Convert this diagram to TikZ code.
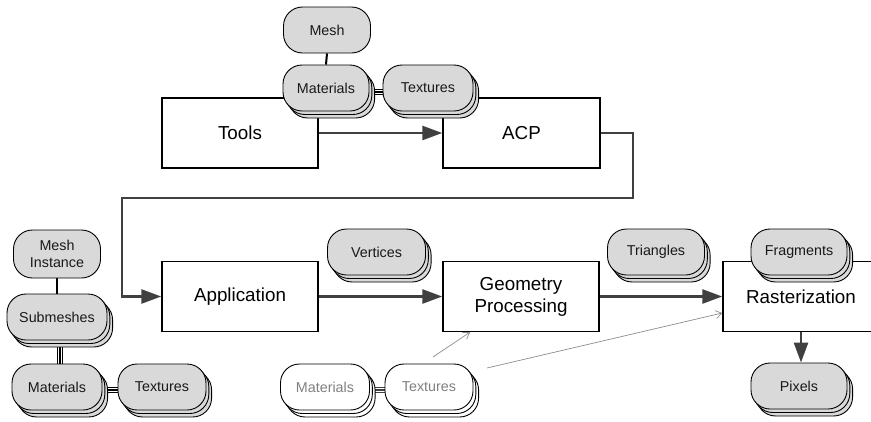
\documentclass[tikz,border=0pt]{standalone}
\usepackage{fontspec}
\setmainfont{Liberation Sans}
\usetikzlibrary{arrows.meta,shadows,backgrounds}
\definecolor{pillgray}{RGB}{217,217,217}
\definecolor{arrowgray}{RGB}{64,64,64}
\definecolor{thingray}{RGB}{140,140,140}
\definecolor{softtext}{RGB}{128,128,128}
\begin{document}
\begin{tikzpicture}[x=1pt,y=-1pt,
  procbox/.style={draw=black, line width=1.4pt, fill=white, minimum width=156pt, minimum height=70pt, inner sep=0pt, align=center, font=\fontsize{18.8}{22}\selectfont},
  pill/.style={draw=black, line width=0.9pt, fill=pillgray, rounded corners=19pt, minimum height=46pt, inner sep=0pt, align=center, text=black!90, font=\fontsize{14.3}{17}\selectfont},
  pillstack/.style={pill, double copy shadow={shadow xshift=2.8pt, shadow yshift=-3.5pt}},
  ghost/.style={pillstack, fill=white, text=softtext},
  bigarrow/.style={draw=arrowgray, line width=2.6pt, -{Triangle[length=20pt,width=14pt]}},
  thinarrow/.style={draw=thingray, line width=0.7pt, -{Straight Barb[length=6pt,width=8pt]}},
  singlelink/.style={draw=black, line width=2pt},
  triplelink/.style={preaction={draw=black, line width=6pt}, draw=white, line width=3.8pt, postaction={draw=black, line width=1.6pt}},
  triplegray/.style={preaction={draw=arrowgray, line width=6pt}, draw=white, line width=3.8pt, postaction={draw=arrowgray, line width=1.6pt}}
]
\clip (0,0) rectangle (871,421);

% process boxes
\node[procbox] (tools) at (240,133) {Tools};
\node[procbox, minimum width=157pt] (acp) at (521.5,133) {ACP};
\node[procbox] (app) at (240,296.5) {Application};
\node[procbox] (geo) at (521,296.5) {Geometry\\Processing};
\node[procbox] (rast) at (801,296.5) {Rasterization};

% main flow arrows
\coordinate (c1) at (633,198);
\coordinate (c2) at (122,198);
\draw[bigarrow] (tools.east) -- (acp.west);
\draw[bigarrow] (acp.east) -| (c1) -- (c2) |- (app.west);
\draw[bigarrow] (app.east) -- (geo.west);
\draw[bigarrow] (geo.east) -- (rast.west);

% data pills
\node[pill, minimum width=87pt] (mesh) at (327,30) {Mesh};
\node[pillstack, minimum width=86pt] (tmat) at (326,88) {Materials};
\node[pillstack, minimum width=90pt] (ttex) at (428,88) {Textures};
\node[pillstack, minimum width=98pt] (vert) at (376.5,252) {Vertices};
\node[pillstack, minimum width=97pt] (tri) at (656,252) {Triangles};
\node[pillstack, minimum width=96pt] (frag) at (799,252) {Fragments};
\node[pillstack, minimum width=96pt] (pix) at (799,386) {Pixels};

\node[pill, minimum width=87pt, minimum height=48pt] (minst) at (57,254) {Mesh\\Instance};
\node[pillstack, minimum width=100pt] (subm) at (57,317) {Submeshes};
\node[pillstack, minimum width=90pt] (lmat) at (57,387) {Materials};
\node[pillstack, minimum width=88pt] (ltex) at (162,387) {Textures};

\node[ghost, minimum width=89pt] (gmat) at (325,387) {Materials};
\node[ghost, minimum width=88pt] (gtex) at (429,387) {Textures};

\draw[bigarrow] (rast.south) -- (rast.south |- pix.north);

% thin gray arrows
\coordinate (g1) at (433,357);
\coordinate (g2) at (487,368);
\draw[thinarrow] (g1) -- ([xshift=-51pt]geo.south);
\draw[thinarrow] (g2) -- ([yshift=-16.5pt]rast.west);

% links between data items
\begin{scope}[on background layer]
\draw[singlelink] (mesh.south) -- (tmat.north);
\draw[triplelink] ([yshift=-4pt]tmat.east) -- ([yshift=-4pt]ttex.west);
\draw[singlelink] (minst.south) -- (subm.north);
\draw[triplelink] ([xshift=3pt]subm.south) -- ([xshift=3pt]lmat.north);
\draw[triplelink] ([yshift=-3pt]lmat.east) -- ([yshift=-3pt]ltex.west);
\draw[triplegray] ([yshift=-3pt]gmat.east) -- ([yshift=-3pt]gtex.west);
\end{scope}
\end{tikzpicture}
\end{document}
